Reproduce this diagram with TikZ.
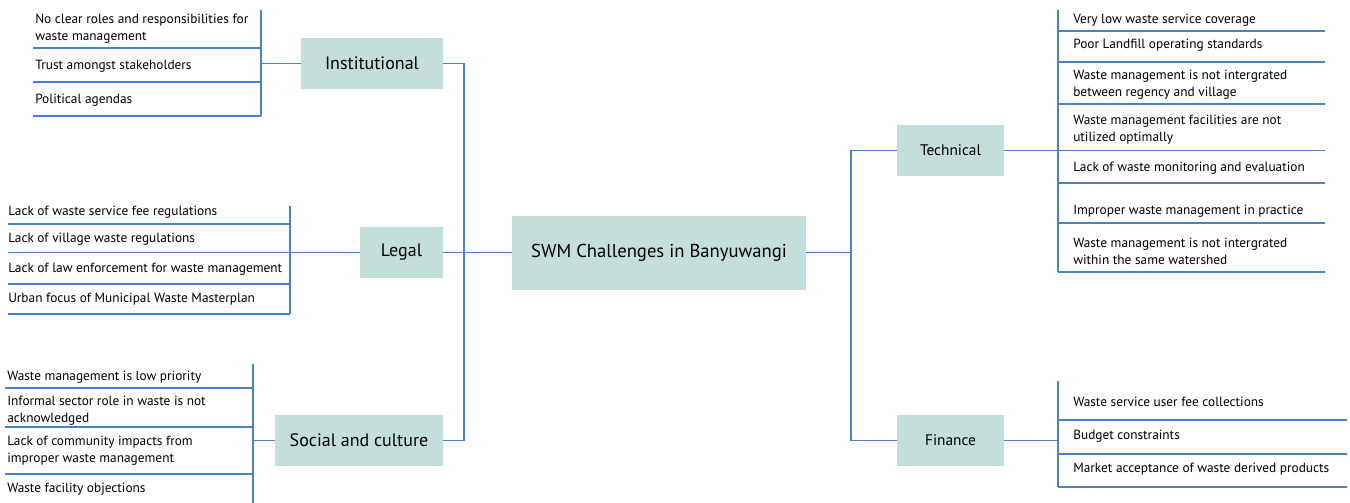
\documentclass[tikz,border=0pt]{standalone}
\usepackage{fontspec}
\setmainfont{PT Sans}
\usetikzlibrary{positioning}
\definecolor{boxfill}{RGB}{195,222,219}
\definecolor{linkblue}{RGB}{72,130,200}

\begin{document}
\begin{tikzpicture}[x=0.75pt, y=-0.75pt]
		\tikzset{
			topic/.style={rectangle, fill=boxfill, inner sep=0pt, align=center},
			leaf/.style={anchor=west, align=left, inner sep=0pt, yshift=-1.1pt, font=\fontsize{10}{12.75}\selectfont},
			link/.style={draw=linkblue, line width=0.85pt}
		}
		\useasboundingbox (0,0) rectangle (1350,503);

		\node[topic, minimum width=220.5pt, minimum height=55.5pt, font=\fontsize{14}{16}\selectfont] (main) at (659,252.5) {SWM Challenges in Banyuwangi};
		\node[topic, minimum width=106.5pt, minimum height=38.25pt, font=\fontsize{13.5}{16}\selectfont] (inst) at (372,63.5) {Institutional};
		\node[topic, minimum width=62.25pt, minimum height=38.25pt, font=\fontsize{13.5}{16}\selectfont] (legal) at (401.5,252.5) {Legal};
		\node[topic, minimum width=126pt, minimum height=38.25pt, font=\fontsize{13.5}{16}\selectfont] (social) at (359,440.5) {Social and culture};
		\node[topic, minimum width=80.25pt, minimum height=38.25pt, font=\fontsize{11.5}{14}\selectfont] (tech) at (950.5,150.5) {Technical};
		\node[topic, minimum width=80.25pt, minimum height=38.25pt, font=\fontsize{11.5}{14}\selectfont] (fin) at (950.5,440.5) {Finance};

		\coordinate (ltrunk) at (464,252.5);
		\coordinate (rtrunk) at (851,252.5);
		\draw[link] (inst.east) -| (ltrunk) |- (social.east);
		\draw[link] (legal.east) -- (main.west);
		\draw[link] (main.east) -- (rtrunk);
		\draw[link] (tech.west) -| (rtrunk) |- (fin.west);

		% institutional
		\node[leaf] (inst1) at (35,27) {No clear roles and responsibilities for\\waste management};
		\node[leaf] (inst2) at (35,65) {Trust amongst stakeholders};
		\node[leaf] (inst3) at (35,99) {Political agendas};
		\coordinate (instbr) at (261,63.5);
		\draw[link] (inst.west) -- (instbr);
		\draw[link] (instbr |- 0,10) -- (instbr |- 0,116);
		\foreach \y in {48,82,116} \draw[link] (33,\y) -- (instbr |- 0,\y);

		% legal
		\node[leaf] (legal1) at (8,211) {Lack of waste service fee regulations};
		\node[leaf] (legal2) at (8,238) {Lack of village waste regulations};
		\node[leaf] (legal3) at (8,268) {Lack of law enforcement for waste management};
		\node[leaf] (legal4) at (8,298) {Urban focus of Municipal Waste Masterplan};
		\coordinate (legalbr) at (290,252.5);
		\draw[link] (legal.west) -- (8,252.5);
		\draw[link] (legalbr |- 0,206) -- (legalbr |- 0,314);
		\foreach \y in {224,284,314} \draw[link] (8,\y) -- (legalbr |- 0,\y);

		% social and culture
		\node[leaf] (soc1) at (7,376) {Waste management is low priority};
		\node[leaf] (soc2) at (7,409) {Informal sector role in waste is not\\acknowledged};
		\node[leaf] (soc3) at (7,449) {Lack of community impacts from\\improper waste management};
		\node[leaf] (soc4) at (7,488) {Waste facility objections};
		\coordinate (socbr) at (253,440.5);
		\draw[link] (social.west) -- (socbr);
		\draw[link] (socbr |- 0,364) -- (socbr |- 0,503);
		\foreach \y in {388,427,474} \draw[link] (5,\y) -- (socbr |- 0,\y);

		% technical
		\node[leaf] (tech1) at (1073,19) {Very low waste service coverage};
		\node[leaf] (tech2) at (1073,44) {Poor Landfill operating standards};
		\node[leaf] (tech3) at (1073,83.5) {Waste management is not intergrated\\between regency and village};
		\node[leaf] (tech4) at (1073,128.5) {Waste management facilities are not\\utilized optimally};
		\node[leaf] (tech5) at (1073,167) {Lack of waste monitoring and evaluation};
		\node[leaf] (tech6) at (1073,210) {Improper waste management in practice};
		\node[leaf] (tech7) at (1073,249.5) {Waste management is not intergrated\\within the same watershed};
		\coordinate (techbr) at (1058,150.5);
		\draw[link] (tech.east) -- (1325,150.5);
		\draw[link] (techbr |- 0,10) -- (techbr |- 0,272);
		\foreach \y in {31,62,104,183,223,272} \draw[link] (techbr |- 0,\y) -- (1325,\y);

		% finance
		\node[leaf] (fin1) at (1073,400) {Waste service user fee collections};
		\node[leaf] (fin2) at (1073,435) {Budget constraints};
		\node[leaf] (fin3) at (1073,468) {Market acceptance of waste derived products};
		\coordinate (finbr) at (1058,440.5);
		\draw[link] (fin.east) -- (finbr);
		\draw[link] (finbr |- 0,381) -- (finbr |- 0,487);
		\foreach \y in {420,454,487} \draw[link] (finbr |- 0,\y) -- (1347,\y);
	\end{tikzpicture}
\end{document}
